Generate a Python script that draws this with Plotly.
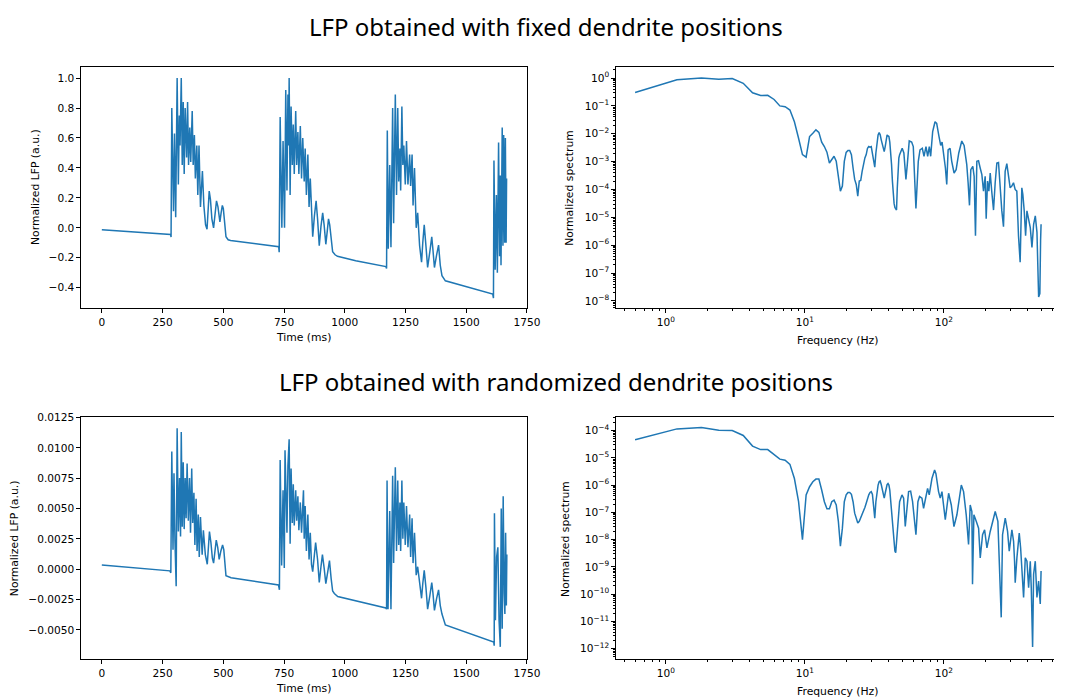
import plotly.graph_objects as go

# ---------------------------------------------------------------- data
# LFP trace, fixed dendrite positions (time in ms, normalized LFP)
time_fixed_ms = [
    0, 283, 285, 288, 295, 299, 304, 310, 315, 319, 322, 327, 331, 335, 339, 343,
    349, 353, 357, 362, 366, 372, 376, 381, 385, 391, 395, 400, 406, 414, 420, 427,
    433, 437, 442, 447, 453, 460, 466, 472, 478, 486, 491, 496, 500, 505, 511, 520,
    530, 728, 730, 734, 741, 746, 752, 757, 762, 766, 769, 771, 775, 779, 784, 788,
    792, 798, 802, 807, 811, 817, 822, 827, 833, 837, 842, 848, 853, 858, 863, 868,
    875, 882, 888, 895, 902, 909, 915, 922, 928, 933, 938, 944, 950, 960, 970, 1045,
    1169, 1172, 1175, 1179, 1185, 1190, 1197, 1201, 1208, 1213, 1218, 1222, 1227, 1230,
    1235, 1239, 1243, 1249, 1254, 1260, 1267, 1271, 1277, 1281, 1287, 1294, 1300, 1308,
    1316, 1321, 1327, 1334, 1341, 1350, 1358, 1363, 1369, 1378, 1386, 1393, 1400, 1414,
    1609, 1612, 1614, 1619, 1624, 1628, 1633, 1637, 1640, 1643, 1648, 1651, 1654, 1658,
    1661, 1664, 1666,
]
lfp_fixed = [
    -0.012, -0.044, -0.062, 0.80, 0.11, 0.63, 0.07, 1.00, 0.29, 0.75, 0.55, 1.00, 0.42, 0.84, 0.36, 0.80,
    0.47, 0.84, 0.42, 0.67, 0.44, 0.78, 0.42, 0.62, 0.33, 0.55, 0.22, 0.55, 0.14, 0.38, 0.15, 0.02,
    -0.01, 0.12, 0.245, 0.19, 0.06, 0.00, 0.10, 0.18, 0.14, 0.04, 0.10, 0.15, 0.13, 0.03, -0.06, -0.08,
    -0.085, -0.126, -0.163, 0.74, 0.00, 0.58, 0.00, 0.92, 0.25, 0.89, 0.55, 1.00, 0.22, 0.81, 0.42, 0.69,
    0.36, 0.78, 0.42, 0.64, 0.36, 0.68, 0.33, 0.60, 0.31, 0.53, 0.22, 0.49, 0.14, 0.33, 0.05, -0.06,
    0.08, 0.18, 0.06, -0.12, 0.01, 0.10, 0.02, -0.11, -0.02, 0.06, 0.02, -0.10, -0.16, -0.18, -0.19, -0.22,
    -0.259, -0.272, 0.65, -0.14, 0.42, -0.13, 0.80, 0.03, 0.89, 0.22, 0.80, 0.31, 0.53, 0.25,
    0.81, 0.42, 0.55, 0.29, 0.58, 0.29, 0.49, 0.28, 0.49, 0.15, 0.40, 0.00, 0.10, -0.12,
    -0.23, -0.10, 0.02, -0.12, -0.265, -0.16, -0.06, -0.15, -0.265, -0.18, -0.115, -0.25, -0.32, -0.354,
    -0.442, -0.47, 0.45, -0.28, 0.22, -0.30, 0.57, -0.19, 0.35, -0.25, 0.67, -0.12, 0.62, -0.10,
    0.60, -0.10, 0.33,
]

# LFP trace, randomized dendrite positions
time_rand_ms = [
    0, 280, 284, 288, 293, 297, 301, 306, 310, 315, 320, 324, 327, 331, 335, 339,
    343, 347, 351, 356, 361, 365, 370, 374, 379, 383, 388, 392, 397, 401, 406, 413,
    418, 426, 434, 438, 443, 449, 455, 460, 466, 471, 477, 483, 490, 497, 502, 506,
    511, 532, 727, 731, 734, 740, 746, 751, 754, 762, 766, 771, 775, 779, 784, 788,
    792, 798, 802, 807, 811, 817, 822, 830, 833, 837, 842, 848, 853, 858, 863, 868,
    874, 880, 888, 895, 902, 908, 915, 922, 930, 937, 944, 950, 957, 971, 1169, 1172,
    1174, 1178, 1185, 1190, 1197, 1201, 1208, 1213, 1218, 1222, 1227, 1230, 1235, 1239,
    1243, 1249, 1254, 1260, 1267, 1271, 1277, 1281, 1287, 1294, 1300, 1308, 1316, 1321,
    1327, 1334, 1341, 1350, 1358, 1363, 1369, 1378, 1386, 1393, 1400, 1414, 1613, 1615,
    1616, 1620, 1625, 1630, 1635, 1640, 1644, 1648, 1652, 1656, 1659, 1662, 1665, 1667,
]
lfp_rand = [
    0.00035, -0.00014, -0.0003, 0.0097, 0.0016, 0.0079, 0.0023, -0.0014, 0.0116, 0.0031, 0.0075, 0.0027, 0.0113, 0.0035, 0.0088, 0.0033,
    0.0075, 0.0042, 0.0087, 0.0040, 0.0075, 0.0030, 0.0083, 0.0038, 0.0063, 0.0020, 0.0058, 0.0015, 0.0045, 0.0010, 0.0043, 0.0012,
    0.0032, 0.0012, 0.0004, 0.0017, 0.0031, 0.0022, 0.0009, 0.0005, 0.0015, 0.0024, 0.0018, 0.0008, 0.0015, 0.0020, 0.0016, 0.0003,
    -0.00054, -0.0007, -0.0013, -0.0017, 0.0090, 0.0003, 0.0065, 0.0001, 0.0098, 0.0030, 0.0085, 0.0107, 0.0021, 0.0083, 0.0038, 0.0070,
    0.0036, 0.0065, 0.0040, 0.0060, 0.0032, 0.0055, 0.0030, 0.0065, 0.0025, 0.0052, 0.0015, 0.0045, 0.0008, 0.0030, 0.0004, -0.0002,
    0.0011, 0.0022, 0.0008, -0.0011, 0.0002, 0.0012, 0.0001, -0.0012, -0.0002, 0.0007, -0.0008, -0.0018, -0.0020, -0.00225, -0.0032, -0.0033,
    0.0073, -0.0033, 0.0048, -0.0033, 0.0077, 0.0005, 0.0084, 0.0015, 0.0073, 0.0020, 0.0055, 0.0015, 0.0073, 0.0025,
    0.0055, 0.0020, 0.0052, 0.0018, 0.0045, 0.0010, 0.0042, 0.0005, 0.0030, -0.0005, 0.0002, -0.0012, -0.0024, -0.0012,
    -0.0001, -0.0015, -0.0033, -0.0022, -0.0011, -0.0020, -0.0034, -0.0024, -0.0017, -0.0030, -0.0037, -0.0046, -0.0060, -0.0063,
    0.0046, -0.0042, 0.0010, 0.0018, -0.0042, -0.0064, 0.0050, -0.0049, 0.0060, -0.0020, -0.0037, 0.0030, -0.0030, 0.0012,
]

# Power spectra (frequency in Hz, log10 of the normalized spectrum)
freq_fixed_hz = [
    0.6, 1.2, 1.8, 2.4, 3.0, 3.6, 4.2, 4.8, 5.4, 6.0, 6.6, 7.2, 7.8, 8.4, 9.0, 9.6,
    10.2, 10.8, 11.4, 12.0, 12.6, 13.2, 13.8, 14.4, 15.0, 15.6, 16.2, 16.8, 17.4, 18.0, 18.6, 19.2,
    19.8, 20.4, 21.0, 21.6, 22.2, 22.8, 23.4, 24.0, 24.6, 25.2, 25.8, 26.4, 27.0, 27.6, 28.2, 28.8,
    29.4, 30.0, 30.6, 31.2, 31.8, 32.4, 33.0, 33.6, 34.2, 34.8, 35.4, 36.0, 36.6, 37.2, 37.8, 38.4,
    39.0, 39.6, 40.2, 40.8, 41.4, 42.0, 42.6, 43.2, 43.8, 44.4, 45.0, 45.6, 46.2, 46.8, 47.4, 48.0,
    50.1, 51.5, 53.3, 54.5, 56.3, 58.6, 60.2, 62.9, 65.4, 67.3, 69.9, 71.9, 74.3, 76.4, 78.5, 80.3,
    83.0, 86.3, 88.7, 92.2, 94.8, 97.0, 99.1, 102.5, 104.8, 107.2, 110.7, 113.8, 118.3, 122.4, 127.9, 134.4,
    139.7, 146.0, 149.3, 152.7, 156.1, 161.4, 165.0, 168.7, 172.5, 177.4, 182.4, 187.5, 192.7, 198.1, 201.4, 206.0,
    210.6, 215.3, 221.3, 227.5, 233.8, 240.3, 247.0, 253.9, 261.0, 268.3, 275.8, 283.5, 291.4, 299.6, 308.0, 316.6,
    325.5, 334.6, 344.0, 353.6, 363.5, 369.6, 378.3, 386.9, 395.7, 406.8, 418.2, 429.9, 442.0, 454.4, 467.1, 480.2,
    490.0, 496.0, 500.0,
]
log10_spec_fixed = [
    -0.52, -0.06, 0.0, -0.04, -0.02, -0.19, -0.53, -0.63, -0.62, -0.77, -1.0, -1.03, -1.15, -1.57, -2.16, -2.75,
    -2.84, -2.1, -1.98, -1.86, -1.95, -2.3, -2.46, -2.66, -3.05, -2.93, -2.81, -2.99, -3.58, -4.06, -3.88, -2.99,
    -2.67, -2.6, -2.6, -2.75, -3.23, -3.64, -3.82, -4.24, -3.7, -3.68, -3.35, -3.05, -2.87, -2.75, -2.52, -2.46,
    -2.48, -2.46, -2.69, -3.01, -3.2, -2.69, -2.28, -2.04, -1.96, -2.04, -2.22, -2.4, -2.58, -2.64, -2.46, -2.16,
    -2.04, -2.08, -2.1, -2.3, -2.64, -3.11, -3.7, -4.3, -4.5, -4.65, -4.7, -4.74, -3.94, -3.23, -2.87, -2.75,
    -2.52, -2.69, -3.64, -3.11, -2.26, -2.30, -2.46, -4.68, -2.99, -2.58, -2.52, -2.81, -2.46, -2.81, -2.46, -2.81,
    -1.92, -1.57, -1.63, -2.10, -2.42, -2.30, -2.64, -3.23, -3.82, -2.58, -2.52, -2.99, -3.41, -3.29, -2.69, -2.26,
    -2.42, -3.11, -3.76, -4.57, -3.29, -3.17, -3.53, -5.66, -2.99, -2.97, -3.23, -3.47, -4.06, -3.53, -5.05, -3.70,
    -4.06, -3.41, -4.12, -4.74, -3.76, -3.05, -3.03, -4.00, -4.77, -5.34, -3.35, -3.07, -3.47, -3.94, -3.88, -3.76,
    -4.00, -4.06, -5.66, -6.61, -3.94, -4.18, -4.77, -5.66, -4.77, -5.13, -5.37, -6.08, -5.25, -4.95, -5.54, -7.86,
    -7.74, -5.84, -5.25,
]

freq_rand_hz = [
    0.6, 1.2, 1.8, 2.4, 3.0, 3.6, 4.2, 4.8, 5.4, 6.0, 6.6, 7.2, 7.8, 8.4, 9.0, 9.6,
    10.2, 10.8, 11.4, 12.0, 12.6, 13.2, 13.8, 14.4, 15.0, 15.6, 16.2, 16.8, 17.4, 18.0, 18.6, 19.2,
    19.8, 20.4, 21.0, 21.6, 22.2, 22.8, 23.4, 24.0, 24.6, 25.2, 25.8, 26.4, 27.0, 27.6, 28.2, 28.8,
    29.4, 30.0, 30.6, 31.2, 31.8, 32.4, 33.0, 33.6, 34.2, 34.8, 35.4, 36.0, 36.6, 37.2, 37.8, 38.4,
    39.0, 39.6, 40.2, 40.8, 41.4, 42.0, 42.6, 43.2, 43.8, 44.4, 45.0, 45.6, 46.2, 46.8, 47.4, 48.0,
    49.9, 51.3, 52.7, 54.2, 55.7, 57.6, 59.5, 62.9, 65.0, 66.8, 69.5, 71.4, 73.4, 76.3, 78.4, 82.0,
    85.7, 87.6, 91.5, 94.1, 96.8, 102.3, 108.1, 113.0, 118.1, 124.0, 133.4, 138.5, 144.7, 150.4, 154.6, 158.9,
    160.6, 164.3, 170.8, 177.6, 182.5, 189.7, 196.2, 203.9, 215.3, 225.2, 233.9, 244.5, 254.2, 258.4, 264.1, 276.2,
    287.0, 295.1, 308.4, 317.0, 322.3, 325.8, 335.0, 348.3, 356.3, 364.1, 374.3, 384.9, 395.7, 406.8, 418.2, 425.0,
    434.6, 441.8, 454.2, 466.9, 480.0, 493.4, 500.0,
]
log10_spec_rand = [
    -4.34, -3.94, -3.89, -3.99, -4.0, -4.18, -4.57, -4.70, -4.70, -4.88, -5.05, -5.09, -5.24, -5.76, -6.61, -8.0,
    -6.36, -6.06, -5.88, -5.78, -5.78, -6.18, -6.61, -6.87, -6.87, -6.61, -6.55, -6.73, -7.33, -8.24, -7.58, -6.61,
    -6.36, -6.27, -6.27, -6.34, -6.61, -7.03, -7.27, -7.39, -7.33, -7.21, -7.09, -6.97, -6.82, -6.67, -6.48, -6.36,
    -6.27, -6.24, -6.34, -6.85, -7.21, -6.61, -6.22, -6.0, -5.88, -5.85, -5.98, -6.15, -6.39, -6.48, -6.30, -6.10,
    -5.98, -5.94, -6.0, -6.18, -6.55, -6.97, -7.45, -7.88, -8.18, -8.42, -8.48, -8.06, -7.58, -7.09, -6.79, -6.61,
    -6.36, -6.48, -7.52, -6.85, -6.24, -6.22, -6.61, -7.82, -6.61, -6.42, -6.48, -6.85, -6.48, -6.12, -6.36, -5.76,
    -5.45, -5.58, -6.24, -6.48, -6.24, -7.27, -6.30, -6.73, -7.52, -7.09, -6.0, -6.24, -7.09, -8.18, -6.73, -6.97,
    -9.64, -7.09, -7.33, -7.58, -8.67, -7.82, -7.64, -8.30, -7.70, -7.27, -6.97, -7.33, -9.39, -10.85, -7.82, -7.21,
    -7.70, -8.42, -7.64, -8.06, -8.79, -9.58, -8.67, -7.76, -8.30, -9.15, -10.12, -8.67, -8.79, -9.76, -8.79, -9.76,
    -11.94, -9.27, -8.79, -10.12, -9.52, -10.36, -9.15,
]

# Axis ticks and text
time_ticks = [0, 250, 500, 750, 1000, 1250, 1500, 1750]
lfp_fixed_ticks = [-0.4, -0.2, 0.0, 0.2, 0.4, 0.6, 0.8, 1.0]
lfp_fixed_ticktext = ["−0.4", "−0.2", "0.0", "0.2", "0.4", "0.6", "0.8", "1.0"]
lfp_rand_ticks = [-0.005, -0.0025, 0.0, 0.0025, 0.005, 0.0075, 0.01, 0.0125]
lfp_rand_ticktext = ["−0.0050", "−0.0025", "0.0000", "0.0025", "0.0050", "0.0075", "0.0100", "0.0125"]
freq_decades = [0, 1, 2]
spec_fixed_decades = [-8, -7, -6, -5, -4, -3, -2, -1, 0]
spec_rand_decades = [-12, -11, -10, -9, -8, -7, -6, -5, -4]

title_fixed = "LFP obtained with fixed dendrite positions"
title_rand = "LFP obtained with randomized dendrite positions"
label_lfp = "Normalized LFP (a.u.)"
label_spec = "Normalized spectrum"
label_time = "Time (ms)"
label_freq = "Frequency (Hz)"

# ---------------------------------------------------------------- figure
W, H = 1068, 700
LINE = "#1f77b4"
TICK_FONT = dict(family="DejaVu Sans", size=10.6, color="black")


def px_x(p):
    return p / W


def px_y(p):
    return 1 - p / H


def power_text(e):
    return "10<sup>" + str(e).replace("-", "−") + "</sup>"


def minor_log(lo, hi):
    return [m * 10.0 ** e for e in range(lo, hi) for m in range(2, 10)]


def base_axis(**kw):
    d = dict(
        showline=True, linecolor="black", linewidth=1, mirror=True,
        ticks="outside", ticklen=4, tickwidth=1, tickcolor="black",
        showgrid=False, zeroline=False, tickfont=TICK_FONT, fixedrange=True,
    )
    d.update(kw)
    return d


def minor_ticks(lo, hi):
    return dict(ticks="outside", ticklen=2, tickwidth=0.8, tickcolor="black",
                tickmode="array", tickvals=minor_log(lo, hi), showgrid=False)


fig = go.Figure()
fig.add_trace(go.Scatter(x=time_fixed_ms, y=lfp_fixed, mode="lines",
                         line=dict(color=LINE, width=1.5), xaxis="x", yaxis="y"))
fig.add_trace(go.Scatter(x=freq_fixed_hz, y=[10 ** v for v in log10_spec_fixed], mode="lines",
                         line=dict(color=LINE, width=1.5), xaxis="x2", yaxis="y2"))
fig.add_trace(go.Scatter(x=time_rand_ms, y=lfp_rand, mode="lines",
                         line=dict(color=LINE, width=1.5), xaxis="x3", yaxis="y3"))
fig.add_trace(go.Scatter(x=freq_rand_hz, y=[10 ** v for v in log10_spec_rand], mode="lines",
                         line=dict(color=LINE, width=1.5), xaxis="x4", yaxis="y4"))

top_dom = [px_y(305), px_y(61.7)]
bot_dom = [px_y(659), px_y(415)]
left_dom = [px_x(82.5), px_x(534)]
right_dom = [px_x(624.5), 1.0]
freq_range = [-0.357, 2.792]

fig.update_layout(
    width=W, height=H, margin=dict(l=0, r=0, t=0, b=0),
    paper_bgcolor="white", plot_bgcolor="white", showlegend=False,
    xaxis=base_axis(domain=left_dom, anchor="y", range=[-84, 1750],
                    tickmode="array", tickvals=time_ticks),
    yaxis=base_axis(domain=top_dom, anchor="x", range=[-0.538, 1.073],
                    tickmode="array", tickvals=lfp_fixed_ticks, ticktext=lfp_fixed_ticktext),
    xaxis2=base_axis(domain=right_dom, anchor="y2", type="log", range=freq_range,
                     tickmode="array", tickvals=[10 ** e for e in freq_decades],
                     ticktext=[power_text(e) for e in freq_decades],
                     minor=minor_ticks(-1, 3)),
    yaxis2=base_axis(domain=top_dom, anchor="x2", type="log", range=[-8.27, 0.39], mirror=False,
                     tickmode="array", tickvals=[10.0 ** e for e in spec_fixed_decades],
                     ticktext=[power_text(e) for e in spec_fixed_decades],
                     minor=minor_ticks(-9, 1)),
    xaxis3=base_axis(domain=left_dom, anchor="y3", range=[-84, 1750],
                     tickmode="array", tickvals=time_ticks),
    yaxis3=base_axis(domain=bot_dom, anchor="x3", range=[-0.00743, 0.0125],
                     tickmode="array", tickvals=lfp_rand_ticks, ticktext=lfp_rand_ticktext),
    xaxis4=base_axis(domain=right_dom, anchor="y4", type="log", range=freq_range,
                     tickmode="array", tickvals=[10 ** e for e in freq_decades],
                     ticktext=[power_text(e) for e in freq_decades],
                     minor=minor_ticks(-1, 3)),
    yaxis4=base_axis(domain=bot_dom, anchor="x4", type="log", range=[-12.39, -3.52], mirror=False,
                     tickmode="array", tickvals=[10.0 ** e for e in spec_rand_decades],
                     ticktext=[power_text(e) for e in spec_rand_decades],
                     minor=minor_ticks(-13, -3)),
)

LABEL_FONT = dict(family="DejaVu Sans", size=10.8, color="black")
TITLE_FONT = dict(family="Noto Sans", size=24, color="black")


def note(text, x, y, font, angle=0):
    fig.add_annotation(text=text, x=px_x(x), y=px_y(y), xref="paper", yref="paper",
                       showarrow=False, textangle=angle, font=font,
                       xanchor="center", yanchor="middle")


note(title_fixed, 553, 21, TITLE_FONT)
note(title_rand, 563, 379, TITLE_FONT)
note(label_time, 308, 334, LABEL_FONT)
note(label_freq, 849, 337, LABEL_FONT)
note(label_time, 308, 688, LABEL_FONT)
note(label_freq, 849, 691, LABEL_FONT)
note(label_lfp, 36, 183, LABEL_FONT, -90)
note(label_spec, 577, 183, LABEL_FONT, -90)
note(label_lfp, 15, 537, LABEL_FONT, -90)
note(label_spec, 573, 537, LABEL_FONT, -90)

fig.write_html("out.html")
